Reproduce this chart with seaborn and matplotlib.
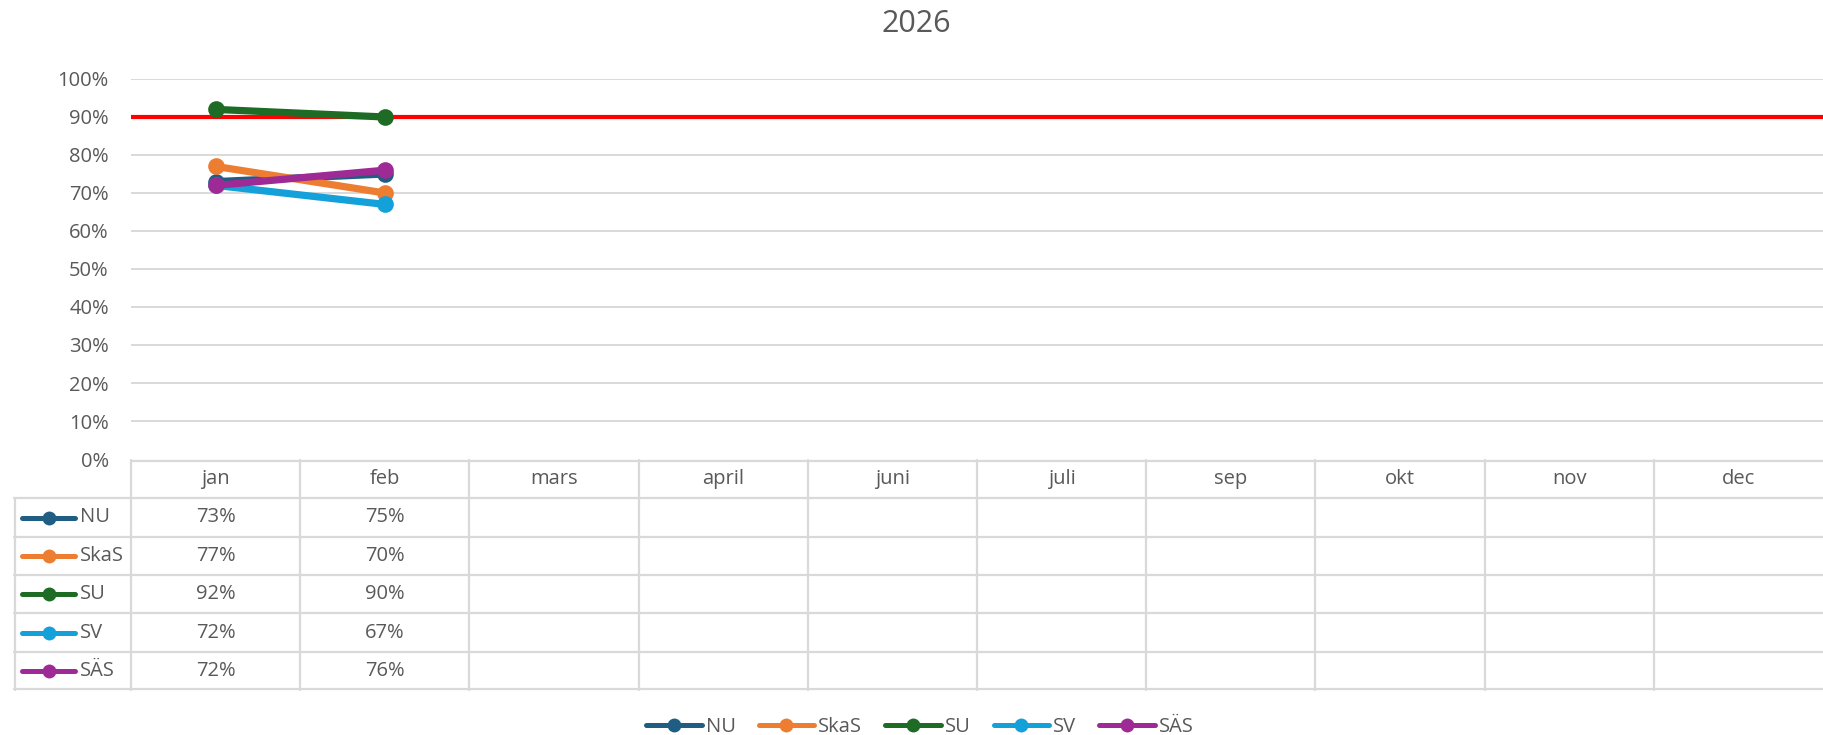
import numpy as np
import pandas as pd
import matplotlib
matplotlib.use("Agg")
import matplotlib.pyplot as plt
from matplotlib.lines import Line2D
import seaborn as sns

# ---- data ----
months = ["jan", "feb", "mars", "april", "juni", "juli", "sep", "okt", "nov", "dec"]
series = ["NU", "SkaS", "SU", "SV", "SÄS"]
nu = [0.73, 0.75]
skas = [0.77, 0.70]
su = [0.92, 0.90]
sv = [0.72, 0.67]
sas = [0.72, 0.76]
target = 0.90
title = "2026"
colors = ["#1F5E82", "#ED7D31", "#1E6B26", "#14A0D8", "#9E2A95"]

values = {"NU": nu, "SkaS": skas, "SU": su, "SV": sv, "SÄS": sas}
rows = []
for s in series:
    for i, v in enumerate(values[s]):
        rows.append({"pos": i, "month": months[i], "series": s, "value": v})
df = pd.DataFrame(rows)

sns.set_style("white")
plt.rcParams["font.family"] = ["Open Sans", "DejaVu Sans"]
TXT = "#595959"
GRID = "#D9D9D9"
FS = 14.5

W, H = 1823, 735
fig = plt.figure(figsize=(W / 100, H / 100), dpi=100)

def frac(x0, y0, x1, y1):
    return [x0 / W, 1 - y1 / H, (x1 - x0) / W, (y1 - y0) / H]

# ---- main plot ----
ax = fig.add_axes(frac(131, 79, 1823, 459))
sns.lineplot(data=df, x="pos", y="value", hue="series", hue_order=series,
             palette=colors, marker="o", markersize=12, markeredgewidth=0,
             linewidth=5.2, legend=False, ax=ax, sort=False, errorbar=None)
ax.axhline(target, color="#FF0000", linewidth=3.0, zorder=1)
ax.set_xlim(-0.5, len(months) - 0.5)
ax.set_ylim(0, 1.0)
ax.set_yticks(np.arange(0, 1.01, 0.1))
ax.set_yticklabels([f"{int(round(t * 100))}%" for t in np.arange(0, 1.01, 0.1)],
                   color=TXT, fontsize=FS)
ax.tick_params(axis="y", length=0, pad=16)
ax.set_xticks([])
ax.set_xlabel("")
ax.set_ylabel("")
for t in np.arange(0.1, 1.01, 0.1):
    ax.axhline(t, color=GRID, linewidth=1.4, zorder=0)
for sp in ax.spines.values():
    sp.set_visible(False)

# ---- data table ----
colw = (1823 - 131) / len(months)
left_units = (131 - 14) / colw
tx = fig.add_axes(frac(14, 460, 1823, 690))
tx.set_xlim(-0.5 - left_units, len(months) - 0.5)
tx.set_ylim(len(series) + 1, 0)
tx.axis("off")
xl = -0.5 - left_units
xr = len(months) - 0.5
lw = 1.6
# horizontal lines
tx.plot([-0.5, xr], [0.02, 0.02], color=GRID, lw=lw, clip_on=False)
for r in range(1, len(series) + 2):
    yy = r if r < len(series) + 1 else len(series) + 1 - 0.02
    tx.plot([xl, xr], [yy, yy], color=GRID, lw=lw, clip_on=False)
# vertical lines
tx.plot([xl + 0.005, xl + 0.005], [1, len(series) + 1], color=GRID, lw=lw, clip_on=False)
for c in range(len(months)):
    tx.plot([c - 0.5, c - 0.5], [0, len(series) + 1], color=GRID, lw=lw, clip_on=False)
# header
for c, m in enumerate(months):
    tx.text(c, 0.5, m, ha="center", va="center", color=TXT, fontsize=FS)
# rows
key_x0 = xl + (22 - 14) / colw
key_x1 = xl + (75 - 14) / colw
key_xm = xl + (49 - 14) / colw
lab_x = xl + (80 - 14) / colw
for r, s in enumerate(series):
    yc = r + 1.5
    tx.plot([key_x0, key_x1], [yc, yc], color=colors[r], lw=3.6,
            solid_capstyle="round", clip_on=False)
    tx.plot([key_xm], [yc], marker="o", color=colors[r], markersize=10,
            markeredgewidth=0, clip_on=False)
    tx.text(lab_x, yc, s, ha="left", va="center", color=TXT, fontsize=FS)
    for c, v in enumerate(values[s]):
        tx.text(c, yc, f"{int(round(v * 100))}%", ha="center", va="center",
                color=TXT, fontsize=FS)

# ---- title ----
fig.text(916 / W, 1 - 24 / H, title, ha="center", va="center", color=TXT, fontsize=22)

# ---- legend ----
handles = [Line2D([0], [0], color=c, lw=3.6, marker="o", markersize=10,
                  markeredgewidth=0, solid_capstyle="round") for c in colors]
fig.legend(handles, series, loc="center", bbox_to_anchor=(920 / W, 1 - 727 / H),
           ncol=len(series), frameon=False, fontsize=FS, handlelength=2.75,
           handletextpad=0.2, columnspacing=1.15, labelcolor=TXT)

fig.savefig("out.png", dpi=100, facecolor="white")
